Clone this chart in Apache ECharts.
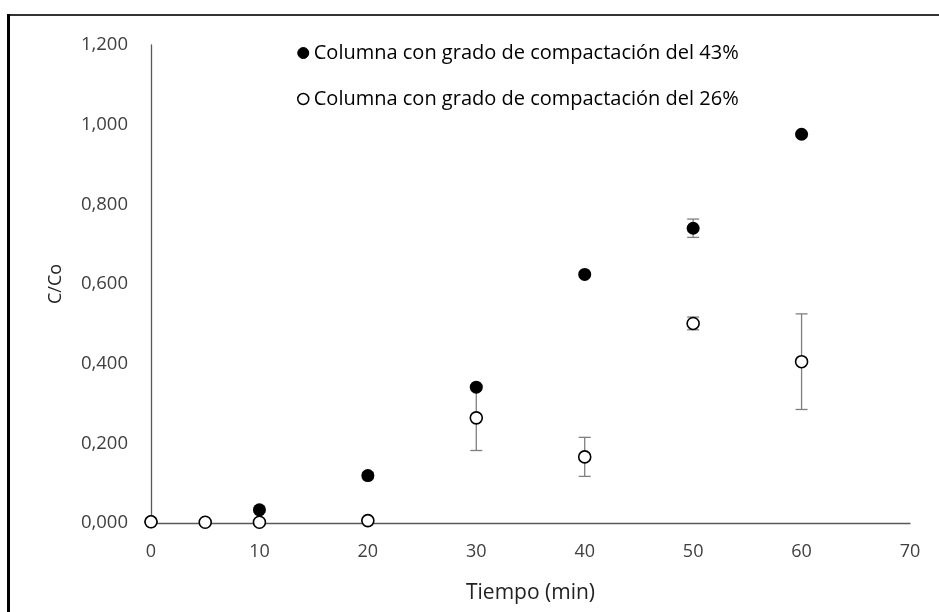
<!DOCTYPE html>
<html>
<head>
<meta charset="utf-8">
<script src="https://cdn.jsdelivr.net/npm/echarts@6/dist/echarts.min.js"></script>
<style>html,body{margin:0;padding:0;background:#fff}#c{width:939px;height:612px}</style>
</head>
<body>
<div id="c"></div>
<script>
// Data
var time43 = [0, 10, 20, 30, 40, 50, 60];
var c43 = [0.003, 0.033, 0.119, 0.341, 0.624, 0.740, 0.976];
var err43 = [0, 0.006, 0.008, 0, 0, 0.023, 0];
var time26 = [0, 5, 10, 20, 30, 40, 50, 60];
var c26 = [0.003, 0.002, 0.002, 0.006, 0.264, 0.166, 0.501, 0.405];
var err26 = [0, 0, 0, 0, 0.082, 0.049, 0.016, 0.120];
var xTicks = [0, 10, 20, 30, 40, 50, 60, 70];
var yTicks = [0, 0.2, 0.4, 0.6, 0.8, 1.0, 1.2];
var name43 = 'Columna con grado de compactación del 43%';
var name26 = 'Columna con grado de compactación del 26%';

var FONT = 'Open Sans';
function pairs(xs, ys) { return xs.map(function (x, i) { return [x, ys[i]]; }); }
function errData(xs, ys, es) {
  var out = [];
  xs.forEach(function (x, i) { if (es[i] > 0) out.push([x, ys[i] - es[i], ys[i] + es[i]]); });
  return out;
}
function renderErr(params, api) {
  var x = api.value(0), lo = api.value(1), hi = api.value(2);
  var pLo = api.coord([x, lo]), pHi = api.coord([x, hi]);
  var hw = 6;
  var st = { stroke: '#7f7f7f', lineWidth: 1.3 };
  return {
    type: 'group',
    children: [
      { type: 'line', shape: { x1: pLo[0], y1: pLo[1], x2: pHi[0], y2: pHi[1] }, style: st },
      { type: 'line', shape: { x1: pLo[0] - hw, y1: pLo[1], x2: pLo[0] + hw, y2: pLo[1] }, style: st },
      { type: 'line', shape: { x1: pHi[0] - hw, y1: pHi[1], x2: pHi[0] + hw, y2: pHi[1] }, style: st }
    ]
  };
}

var chart = echarts.init(document.getElementById('c'), null, { renderer: 'canvas' });
chart.setOption({
  animation: false,
  backgroundColor: '#fff',
  textStyle: { fontFamily: FONT },
  graphic: [
    { type: 'line', shape: { x1: 8, y1: 15, x2: 939, y2: 15 }, style: { stroke: '#333', lineWidth: 2 } },
    { type: 'line', shape: { x1: 8.5, y1: 14, x2: 8.5, y2: 612 }, style: { stroke: '#000', lineWidth: 3 } }
  ],
  grid: { left: 151, right: 29, top: 45, bottom: 89, containLabel: false },
  legend: {
    orient: 'vertical',
    left: 292, top: 38,
    itemGap: 26,
    itemWidth: 11, itemHeight: 11,
    textStyle: { fontFamily: FONT, fontSize: 20, lineHeight: 20, color: '#000' },
    data: [
      { name: name43, icon: 'circle', itemStyle: { color: '#000', borderColor: '#000', borderWidth: 1 } },
      { name: name26, icon: 'circle', itemStyle: { color: '#fff', borderColor: '#000', borderWidth: 1.5 } }
    ]
  },
  xAxis: {
    type: 'value', min: 0, max: 70, interval: 10,
    name: 'Tiempo (min)', nameLocation: 'middle', nameGap: 60,
    nameTextStyle: { fontFamily: FONT, fontSize: 21, color: '#222' },
    axisLine: { show: true, onZero: false, lineStyle: { color: '#595959', width: 1.3 } },
    axisTick: { show: false },
    splitLine: { show: false },
    axisLabel: { fontFamily: FONT, fontSize: 18, color: '#404040', margin: 20,
      formatter: function (v) { return xTicks.indexOf(v) >= 0 ? String(v) : ''; } }
  },
  yAxis: {
    type: 'value', min: 0, max: 1.2, interval: 0.2,
    name: 'C/Co', nameLocation: 'middle', nameGap: 86, nameRotate: 90,
    nameTextStyle: { fontFamily: FONT, fontSize: 18, color: '#222' },
    axisLine: { show: true, onZero: false, lineStyle: { color: '#595959', width: 1.3 } },
    axisTick: { show: false },
    splitLine: { show: false },
    axisLabel: { fontFamily: FONT, fontSize: 18.5, color: '#404040', margin: 23,
      formatter: function (v) {
        var t = yTicks.filter(function (k) { return Math.abs(k - v) < 1e-9; });
        return t.length ? t[0].toFixed(3).replace('.', ',') : '';
      } }
  },
  series: [
    { type: 'custom', name: 'err43', renderItem: renderErr, data: errData(time43, c43, err43), z: 1, silent: true },
    { type: 'custom', name: 'err26', renderItem: renderErr, data: errData(time26, c26, err26), z: 1, silent: true },
    { type: 'scatter', name: name43, data: pairs(time43, c43), symbol: 'circle', symbolSize: 13,
      itemStyle: { color: '#000', borderColor: '#000', borderWidth: 0, opacity: 1 }, z: 3 },
    { type: 'scatter', name: name26, data: pairs(time26, c26), symbol: 'circle', symbolSize: 12,
      itemStyle: { color: '#fff', borderColor: '#000', borderWidth: 1.6, opacity: 1 }, z: 4 }
  ]
});
</script>
</body>
</html>
